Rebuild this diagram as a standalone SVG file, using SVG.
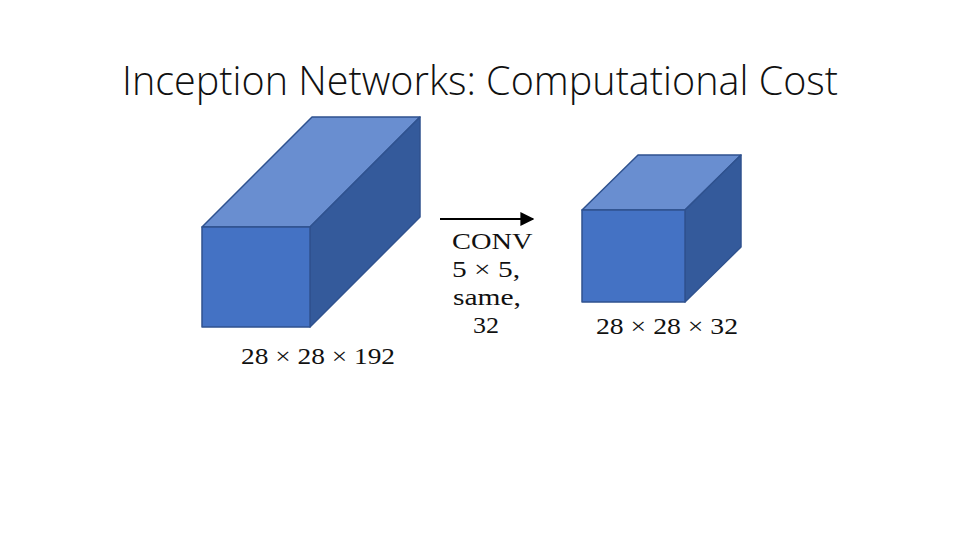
<svg xmlns="http://www.w3.org/2000/svg" width="960" height="540" viewBox="0 0 960 540">
<defs>
<style>
.front{fill:#4472C4;stroke:#2F528F;stroke-width:1.5;stroke-linejoin:round}
.top{fill:#698ED0;stroke:#2F528F;stroke-width:1.5;stroke-linejoin:round}
.side{fill:#345A9B;stroke:#2F528F;stroke-width:1.5;stroke-linejoin:round}
.math{font-family:"Liberation Serif","DejaVu Serif",serif;font-size:24px;fill:#111}
.title{font-family:"Open Sans","Liberation Sans",sans-serif;font-weight:300;font-size:41px;fill:#111}
</style>
<marker id="arr" viewBox="0 0 10 10" refX="9" refY="5" markerWidth="14" markerHeight="14" markerUnits="userSpaceOnUse" orient="auto">
<path d="M0,0 L10,5 L0,10 z" fill="#000"/>
</marker>
</defs>
<rect width="960" height="540" fill="#fff"/>
<text class="title" x="122" y="95" textLength="716" lengthAdjust="spacingAndGlyphs">Inception Networks: Computational Cost</text>
<g id="input-volume">
<polygon class="top" points="202,227 312,117 420,117 310,227"/>
<polygon class="side" points="310,227 420,117 420,217 310,327"/>
<rect class="front" x="202" y="227" width="108" height="100"/>
<text class="math" x="241" y="364" textLength="154" lengthAdjust="spacingAndGlyphs">28 × 28 × 192</text>
</g>
<g id="output-volume">
<polygon class="top" points="582,210 638,155 741,155 685,210"/>
<polygon class="side" points="685,210 741,155 741,247 685,302"/>
<rect class="front" x="582" y="210" width="103" height="92"/>
<text class="math" x="596" y="334" textLength="142" lengthAdjust="spacingAndGlyphs">28 × 28 × 32</text>
</g>
<g id="connectors">
<line x1="440" y1="219" x2="533" y2="219" stroke="#000" stroke-width="2" marker-end="url(#arr)"/>
<text class="math">
<tspan x="452" y="249" textLength="80" lengthAdjust="spacingAndGlyphs">CONV</tspan>
<tspan x="452" y="277" textLength="68" lengthAdjust="spacingAndGlyphs">5 × 5,</tspan>
<tspan x="453" y="305" textLength="68" lengthAdjust="spacingAndGlyphs">same,</tspan>
<tspan x="473" y="333" textLength="26" lengthAdjust="spacingAndGlyphs">32</tspan>
</text>
</g>
</svg>
